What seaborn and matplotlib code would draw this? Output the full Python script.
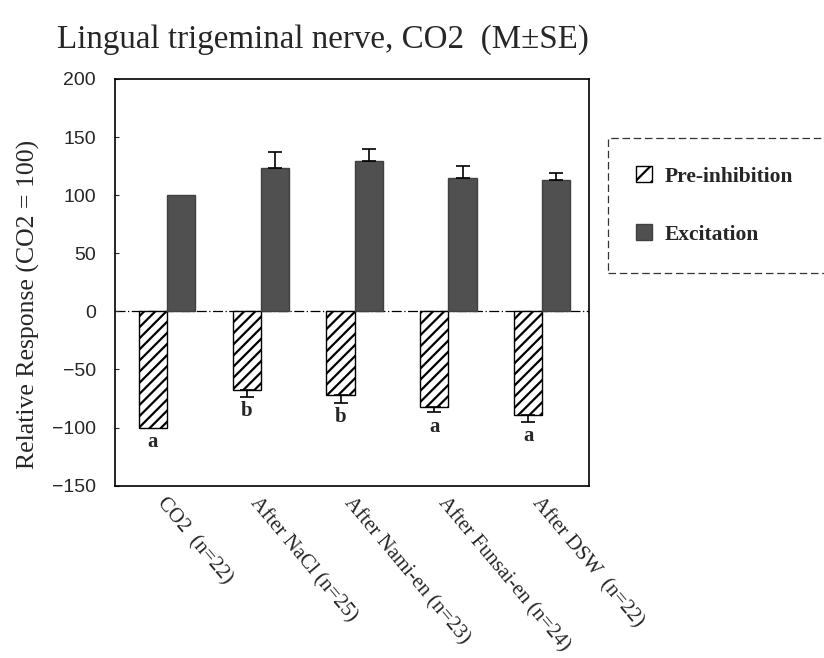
import matplotlib
matplotlib.use("Agg")
import matplotlib.pyplot as plt
import seaborn as sns
import pandas as pd
import numpy as np
from matplotlib.patches import Patch

# ---- data ----
categories = ["CO2  (n=22)", "After NaCl (n=25)", "After Nami-en (n=23)",
              "After Funsai-en (n=24)", "After DSW  (n=22)"]
series_names = ["Pre-inhibition", "Excitation"]
pre_inhibition = [-100, -68, -72, -82, -89]
pre_inhibition_se = [0, 6, 7, 5, 6]
excitation = [100, 123, 129, 115, 113]
excitation_se = [0, 14, 11, 10, 6]
letters = ["a", "b", "b", "a", "a"]
yticks = [200, 150, 100, 50, 0, -50, -100, -150]

df = pd.DataFrame({
    "group": categories * 2,
    "type": [series_names[0]] * 5 + [series_names[1]] * 5,
    "value": pre_inhibition + excitation,
})

sns.set_theme(style="white")
plt.rcParams["font.family"] = ["Liberation Serif", "DejaVu Serif"]
plt.rcParams["hatch.linewidth"] = 1.6

fig = plt.figure(figsize=(8.24, 6.58), dpi=100)
ax = fig.add_axes([0.140, 0.262, 0.575, 0.618])

palette = {series_names[0]: "white", series_names[1]: "#505050"}
sns.barplot(data=df, x="group", y="value", hue="type", order=categories,
            hue_order=series_names, palette=palette, width=0.6,
            edgecolor="black", linewidth=1.0, errorbar=None, ax=ax,
            legend=False, saturation=1)

containers = ax.containers
for p in containers[0]:
    p.set_hatch("///")
    p.set_edgecolor("black")
for p in containers[1]:
    p.set_edgecolor("#404040")

# error bars (one-sided)
xs_pre = [p.get_x() + p.get_width() / 2 for p in containers[0]]
xs_exc = [p.get_x() + p.get_width() / 2 for p in containers[1]]
for x, v, se in zip(xs_pre, pre_inhibition, pre_inhibition_se):
    if se > 0:
        ax.errorbar([x], [v], yerr=[[se], [0]], fmt="none", ecolor="black",
                    elinewidth=1.2, capsize=5, capthick=1.2)
for x, v, se in zip(xs_exc, excitation, excitation_se):
    if se > 0:
        ax.errorbar([x], [v], yerr=[[0], [se]], fmt="none", ecolor="black",
                    elinewidth=1.2, capsize=5, capthick=1.2)

# significance letters
for x, v, se, t in zip(xs_pre, pre_inhibition, pre_inhibition_se, letters):
    ax.annotate(t, (x, v - se), xytext=(0, -3), textcoords="offset points",
                ha="center", va="top", fontsize=15, fontweight="bold",
                family=["Liberation Serif"])

ax.axhline(0, color="black", lw=0.9, ls=(0, (8, 2, 1, 2)), zorder=0.5)

ax.set_ylim(-150, 200)
ax.set_xlim(-0.55, 4.5)
ax.set_yticks(yticks)
ax.set_yticklabels([f"{t}".replace("-", "\u2212") for t in yticks],
                   family=["Liberation Sans"], fontsize=14)
ax.tick_params(axis="y", direction="in", length=3, width=0.8, pad=14, left=True)
ax.tick_params(axis="x", length=0, pad=6)
ax.set_xlabel("")
ax.set_ylabel("Relative Response (CO2 = 100)", fontsize=18.5)
ax.yaxis.set_label_coords(-0.158, 0.445)
for lab in ax.get_xticklabels():
    lab.set_rotation(-50)
    lab.set_ha("left")
    lab.set_va("top")
    lab.set_rotation_mode("anchor")
    lab.set_fontsize(15)

for s in ax.spines.values():
    s.set_visible(True)
    s.set_color("black")
    s.set_linewidth(1.2)

fig.text(0.069, 0.940, "Lingual trigeminal nerve, CO2  (M\u00b1SE)",
         fontsize=23.8, ha="left", va="center")

handles = [Patch(facecolor="white", edgecolor="black", hatch="//"),
           Patch(facecolor="#505050", edgecolor="#404040")]
leg = fig.legend(handles, series_names, loc="upper left",
                 bbox_to_anchor=(0.738, 0.790, 0.30, 0.0), mode="expand",
                 frameon=True,
                 prop={"family": "Liberation Serif", "weight": "bold", "size": 15.5},
                 handlelength=0.75, handleheight=0.75, handletextpad=0.6,
                 labelspacing=1.75, borderpad=1.3, fancybox=False,
                 borderaxespad=0)
fr = leg.get_frame()
fr.set_edgecolor("black")
fr.set_linewidth(0.9)
fr.set_linestyle((0, (6, 3)))

fig.savefig("out.png", dpi=100)
